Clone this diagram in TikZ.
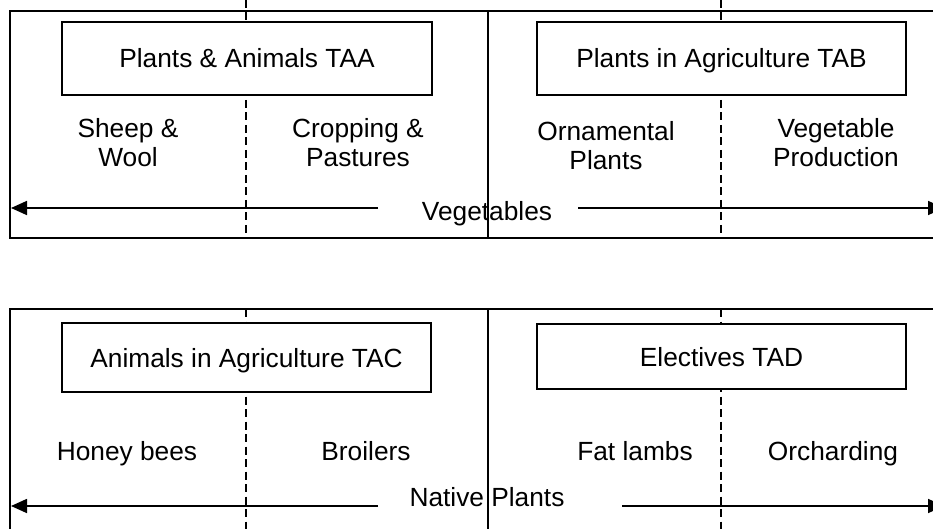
\documentclass[tikz,border=0pt]{standalone}
\usepackage{fontspec}
\setmainfont{Liberation Sans}
\usetikzlibrary{arrows.meta}
\begin{document}
\begin{tikzpicture}[x=1pt,y=-1pt,
  line width=1.7pt,
  every node/.style={font=\fontsize{26.3}{29}\selectfont, inner sep=0pt},
  frame/.style={draw, line width=1.7pt},
  divider/.style={draw, line width=1.7pt},
  dashdiv/.style={draw, line width=1.7pt, dash pattern=on 8pt off 4.5pt},
  modbox/.style={draw, fill=white, line width=1.7pt, text height=19pt, text depth=0pt},
  lbl/.style={align=center},
  arrowline/.style={draw, line width=1.7pt, -{Triangle[length=16pt,width=14pt]}}
]
\useasboundingbox (0,0) rectangle (933,529);
\clip (0,0) rectangle (933,529);

% ---------- top panel ----------
\draw[frame] (10,11) rectangle (950,238);
\draw[divider] (488,11) -- (488,238);
\draw[dashdiv] (246,0) -- (246,238);
\draw[dashdiv] (721,0) -- (721,238);

\node[modbox, minimum width=370pt, minimum height=73pt] (taa) at (247,58.5) {Plants \& Animals TAA};
\node[modbox, minimum width=369pt, minimum height=73pt] (tab) at (721.5,58.5) {Plants in Agriculture TAB};

\node[lbl] (sheep) at (128,143) {Sheep \&\\Wool};
\node[lbl] (crop) at (358,143) {Cropping \&\\Pastures};
\node[lbl] (orn) at (606,146) {Ornamental\\Plants};
\node[lbl] (veg) at (836,143) {Vegetable\\Production};

\node[anchor=base] (vegs) at (487,221) {Vegetables};
\coordinate (vlstart) at (378,208);
\coordinate (vlend) at (11,208);
\coordinate (vrstart) at (578,208);
\coordinate (vrend) at (944,208);
\draw[arrowline] (vlstart) -- (vlend);
\draw[arrowline] (vrstart) -- (vrend);

% ---------- bottom panel ----------
\draw[frame] (10,309) rectangle (950,560);
\draw[divider] (488,309) -- (488,560);
\draw[dashdiv] (246,309) -- (246,560);
\draw[dashdiv] (721,309) -- (721,560);

\node[modbox, minimum width=369pt, minimum height=69pt] (tac) at (246.5,357.5) {Animals in Agriculture TAC};
\node[modbox, minimum width=369pt, minimum height=65pt] (tad) at (721.5,356.5) {Electives TAD};

\node[anchor=base] (honey) at (127,460) {Honey bees};
\node[anchor=base] (broil) at (366,460) {Broilers};
\node[anchor=base] (fat) at (635,460) {Fat lambs};
\node[anchor=base] (orch) at (833,460) {Orcharding};

\node[anchor=base] (native) at (487,506) {Native Plants};
\coordinate (nlstart) at (378,506);
\coordinate (nlend) at (11,506);
\coordinate (nrstart) at (622,506);
\coordinate (nrend) at (944,506);
\draw[arrowline] (nlstart) -- (nlend);
\draw[arrowline] (nrstart) -- (nrend);
\end{tikzpicture}
\end{document}
